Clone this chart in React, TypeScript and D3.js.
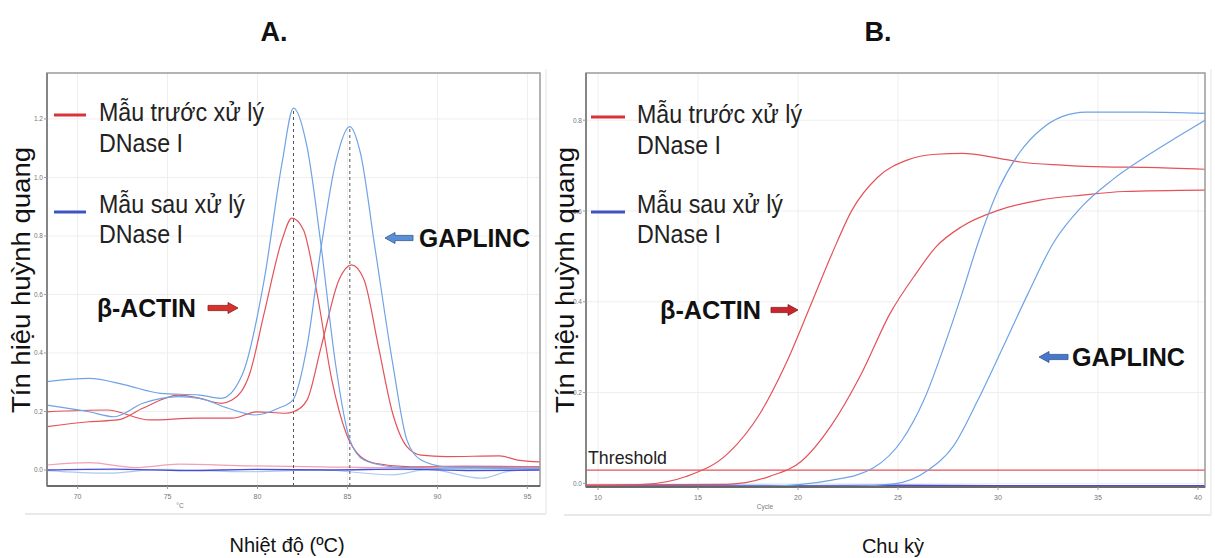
import React from 'react';
import * as d3 from 'd3';

// ---- Panel A: melt curves (temperature, -dF/dT) ----
const tempTicks = [70, 75, 80, 85, 90, 95];
const meltTicks = [0, 0.2, 0.4, 0.6, 0.8, 1.0, 1.2];
const meltPeaks = [82.0, 85.13];

const actinAfterA = [[68.3, 0.302], [70.64, 0.313], [72.63, 0.291], [74.61, 0.262], [76.79, 0.256], [77.98, 0.245], [79.18, 0.33], [80.37, 0.65], [81.36, 1.048], [82.0, 1.237], [82.75, 1.105], [83.54, 0.763], [84.33, 0.365], [85.13, 0.103], [85.92, 0.034], [87.51, 0.011], [89.49, 0.006], [91.48, 0.004], [95.7, 0.006]];
const gaplincAfterA = [[68.3, 0.222], [70.64, 0.199], [72.03, 0.182], [73.62, 0.228], [75.61, 0.251], [76.79, 0.245], [78.38, 0.211], [79.87, 0.188], [81.16, 0.211], [81.96, 0.239], [82.75, 0.422], [83.54, 0.763], [84.33, 1.048], [85.13, 1.174], [85.72, 1.083], [86.52, 0.763], [87.51, 0.365], [88.3, 0.103], [89.09, 0.034], [90.48, 0.011], [93.46, 0.008], [95.7, 0.006]];
const actinBeforeA = [[68.3, 0.148], [70.64, 0.165], [72.23, 0.171], [73.62, 0.211], [75.61, 0.256], [76.79, 0.245], [77.98, 0.228], [78.58, 0.239], [79.57, 0.33], [80.37, 0.536], [81.36, 0.786], [81.91, 0.861], [82.55, 0.821], [83.34, 0.593], [84.13, 0.308], [84.93, 0.125], [85.72, 0.046], [86.52, 0.023], [88.5, 0.011], [91.48, 0.011], [95.7, 0.011]];
const gaplincBeforeA = [[68.3, 0.199], [71.63, 0.205], [74.02, 0.171], [76.59, 0.177], [78.58, 0.177], [79.97, 0.199], [81.56, 0.194], [82.0, 0.199], [82.75, 0.239], [83.54, 0.422], [84.53, 0.65], [85.23, 0.701], [85.92, 0.65], [86.72, 0.422], [87.51, 0.194], [88.3, 0.08], [89.09, 0.051], [90.48, 0.046], [93.46, 0.048], [94.46, 0.034], [95.7, 0.028]];
const ntcDarkA = [[68.3, 0.0], [72, 0.003], [76, -0.002], [80, 0.002], [84, 0.0], [88, 0.003], [92, -0.002], [95.7, 0.0]];
const ntcPinkA = [[68.3, 0.017], [70.64, 0.025], [73.22, 0.008], [75.61, 0.02], [79.57, 0.014], [83.54, 0.011], [87.51, 0.008], [91.48, 0.014], [95.7, 0.011]];
const ntcLightA = [[68.3, -0.002], [71.63, -0.011], [74.61, 0.002], [79.57, -0.006], [83.54, 0.0], [87.51, -0.017], [89.49, 0.002], [92.47, -0.028], [94.0, -0.004], [95.7, 0.002]];

// ---- Panel B: amplification curves (cycle, fluorescence) ----
const cycleTicks = [10, 15, 20, 25, 30, 35, 40];
const ampTicks = [0, 0.2, 0.4, 0.6, 0.8];
const thresholdB = 0.029;

const actinBeforeB = [[9.4, -0.004], [12.3, -0.002], [14.4, 0.015], [16.5, 0.066], [18.1, 0.154], [19.4, 0.264], [20.6, 0.389], [21.7, 0.506], [22.7, 0.602], [24.0, 0.675], [25.45, 0.712], [26.9, 0.725], [28.2, 0.727], [30.05, 0.716], [31.1, 0.708], [33.2, 0.701], [35.3, 0.697], [37.4, 0.696], [40.35, 0.692]];
const gaplincBeforeB = [[9.4, -0.004], [16.5, -0.002], [18.55, 0.015], [20.2, 0.05], [21.7, 0.13], [23.15, 0.24], [24.6, 0.374], [25.9, 0.462], [26.9, 0.521], [28.2, 0.566], [30.05, 0.602], [32.1, 0.624], [34.2, 0.635], [36.3, 0.643], [40.35, 0.646]];
const actinAfterB = [[9.4, -0.007], [18.55, -0.006], [21.7, 0.007], [23.8, 0.035], [25.2, 0.095], [26.3, 0.184], [27.3, 0.301], [28.2, 0.418], [29.0, 0.529], [30.05, 0.65], [31.1, 0.73], [32.1, 0.778], [33.2, 0.808], [34.4, 0.818], [37.4, 0.818], [40.35, 0.815]];
const gaplincAfterB = [[9.4, -0.007], [22.7, -0.006], [24.8, -0.001], [26.5, 0.029], [27.75, 0.081], [29.0, 0.184], [30.26, 0.301], [31.5, 0.418], [32.76, 0.529], [34.2, 0.61], [35.7, 0.668], [37.4, 0.72], [39.0, 0.764], [40.35, 0.8]];
const ntcB = [[9.4, -0.005], [15, -0.004], [20, -0.005], [25, -0.004], [30, -0.005], [40.35, -0.005]];

const RED = '#e4525a';
const BLUE = '#6fa3e6';
const NARROW = "'Liberation Sans Narrow', 'Arial Narrow', 'Liberation Sans', Arial, sans-serif";
const SANS = "'Liberation Sans', Arial, sans-serif";

function Arrow({ x0, x1, y, dir, fill, stroke }) {
  // block arrow, head on the side of dir
  const hl = 10, sh = 2.6, hh = 5.5;
  let pts;
  if (dir === 'right') {
    pts = [[x0, y - sh], [x1 - hl, y - sh], [x1 - hl, y - hh], [x1, y], [x1 - hl, y + hh], [x1 - hl, y + sh], [x0, y + sh]];
  } else {
    pts = [[x1, y - sh], [x0 + hl, y - sh], [x0 + hl, y - hh], [x0, y], [x0 + hl, y + hh], [x0 + hl, y + sh], [x1, y + sh]];
  }
  return <polygon points={pts.map(p => p.join(',')).join(' ')} fill={fill} stroke={stroke} strokeWidth={0.8} />;
}

function Legend({ x, lineX0, lineX1, yRed, yBlue }) {
  return (
    <g>
      <line x1={lineX0} x2={lineX1} y1={yRed} y2={yRed} stroke="#d8323a" strokeWidth={3} />
      <text x={x} y={yRed + 6} fontFamily={NARROW} fontSize={25} fill="#222" textLength={165} lengthAdjust="spacingAndGlyphs">Mẫu trước xử lý</text>
      <text x={x} y={yRed + 37} fontFamily={NARROW} fontSize={25} fill="#222" textLength={84} lengthAdjust="spacingAndGlyphs">DNase I</text>
      <line x1={lineX0} x2={lineX1} y1={yBlue} y2={yBlue} stroke="#3d55c4" strokeWidth={3} />
      <text x={x} y={yBlue + 1} fontFamily={NARROW} fontSize={25} fill="#222" textLength={146} lengthAdjust="spacingAndGlyphs">Mẫu sau xử lý</text>
      <text x={x} y={yBlue + 31} fontFamily={NARROW} fontSize={25} fill="#222" textLength={84} lengthAdjust="spacingAndGlyphs">DNase I</text>
    </g>
  );
}

function Frame({ id, x0, x1, y0, y1, xs, ys, xTicks, yTicks, yFmt, axisName, children }) {
  return (
    <g>
      <defs>
        <clipPath id={id}><rect x={x0} y={y0} width={x1 - x0} height={y1 - y0} /></clipPath>
      </defs>
      <rect x={x0} y={y0} width={x1 - x0} height={y1 - y0} fill="#fff" />
      {xTicks.map(t => (
        <line key={'gx' + t} x1={xs(t)} x2={xs(t)} y1={y0} y2={y1} stroke="#eeeeee" strokeWidth={1} />
      ))}
      {yTicks.map(t => (
        <line key={'gy' + t} x1={x0} x2={x1} y1={ys(t)} y2={ys(t)} stroke="#eeeeee" strokeWidth={1} />
      ))}
      <g clipPath={`url(#${id})`}>{children}</g>
      <rect x={x0} y={y0} width={x1 - x0} height={y1 - y0} fill="none" stroke="#9a9a9a" strokeWidth={1.5} />
      <line x1={x0} x2={x1} y1={y1} y2={y1} stroke="#555" strokeWidth={1.5} />
      <line x1={x0} x2={x0} y1={y0} y2={y1} stroke="#777" strokeWidth={1.5} />
      {xTicks.map(t => (
        <g key={'tx' + t}>
          <line x1={xs(t)} x2={xs(t)} y1={y1} y2={y1 + 3} stroke="#999" />
          <text x={xs(t)} y={y1 + 13} fontSize={7} fill="#777" textAnchor="middle" fontFamily={SANS}>{t}</text>
        </g>
      ))}
      {yTicks.map(t => (
        <g key={'ty' + t}>
          <line x1={x0 - 3} x2={x0} y1={ys(t)} y2={ys(t)} stroke="#999" />
          <text x={x0 - 4} y={ys(t) + 2.5} fontSize={6.5} fill="#777" textAnchor="end" fontFamily={SANS}>{yFmt(t)}</text>
        </g>
      ))}
      <text x={axisName.x} y={y1 + 22} fontSize={6.5} fill="#777" textAnchor="middle" fontFamily={SANS}>{axisName.text}</text>
      <line x1={x0 - 22} x2={x1 + 6} y1={y1 + 28} y2={y1 + 28} stroke="#e2e2e2" strokeWidth={1.5} />
      <line x1={x1 + 6} x2={x1 + 6} y1={y0 - 4} y2={y1 + 28} stroke="#ececec" strokeWidth={1.5} />
    </g>
  );
}

export default function App() {
  // Panel A scales
  const axA = { x0: 47, x1: 540, y0: 73, y1: 486 };
  const xA = d3.scaleLinear().domain([68.3, 95.7]).range([axA.x0, axA.x1]);
  const yA = d3.scaleLinear().domain([-0.0547, 1.357]).range([axA.y1, axA.y0]);
  const lineA = d3.line().x(d => xA(d[0])).y(d => yA(d[1])).curve(d3.curveMonotoneX);

  // Panel B scales
  const axB = { x0: 586, x1: 1205, y0: 73, y1: 487 };
  const xB = d3.scaleLinear().domain([9.4, 40.35]).range([axB.x0, axB.x1]);
  const yB = d3.scaleLinear().domain([-0.008, 0.904]).range([axB.y1, axB.y0]);
  const lineB = d3.line().x(d => xB(d[0])).y(d => yB(d[1])).curve(d3.curveMonotoneX);

  const fmt1 = d3.format('.1f');

  return (
    <svg width={1215} height={558} style={{ position: 'absolute', left: 0, top: 0, background: '#fff' }}>
      {/* titles */}
      <text x={274} y={41} fontSize={27} fontWeight="bold" textAnchor="middle" fontFamily={SANS} fill="#111">A.</text>
      <text x={878} y={41} fontSize={27} fontWeight="bold" textAnchor="middle" fontFamily={SANS} fill="#111">B.</text>

      {/* Panel A */}
      <Frame id="clipA" {...axA} xs={xA} ys={yA} xTicks={tempTicks} yTicks={meltTicks} yFmt={fmt1} axisName={{ x: 180, text: '°C' }}>
        <path d={lineA(ntcLightA)} fill="none" stroke="#a9c8f2" strokeWidth={1.2} />
        <path d={lineA(ntcPinkA)} fill="none" stroke="#f2a0b4" strokeWidth={1.2} />
        <path d={lineA(ntcDarkA)} fill="none" stroke="#4b4bd6" strokeWidth={1.4} />
        {meltPeaks.map((p, i) => (
          <line key={p} x1={xA(p)} x2={xA(p)} y1={axA.y1} y2={yA(i === 0 ? 1.237 : 1.174)} stroke="#555" strokeWidth={1} strokeDasharray="3,3" />
        ))}
        <path d={lineA(actinBeforeA)} fill="none" stroke={RED} strokeWidth={1.2} />
        <path d={lineA(gaplincBeforeA)} fill="none" stroke={RED} strokeWidth={1.2} />
        <path d={lineA(actinAfterA)} fill="none" stroke={BLUE} strokeWidth={1.2} />
        <path d={lineA(gaplincAfterA)} fill="none" stroke={BLUE} strokeWidth={1.2} />
      </Frame>
      <Legend x={99} lineX0={54} lineX1={86} yRed={115} yBlue={212} />
      <text x={97} y={317} fontFamily={NARROW} fontWeight="bold" fontSize={25} fill="#111" textLength={99} lengthAdjust="spacingAndGlyphs">β-ACTIN</text>
      <Arrow x0={208} x1={238} y={308} dir="right" fill="#d7322c" stroke="#8b1c1c" />
      <text x={419} y={247} fontFamily={NARROW} fontWeight="bold" fontSize={25} fill="#111" textLength={111} lengthAdjust="spacingAndGlyphs">GAPLINC</text>
      <Arrow x0={385} x1={413} y={238} dir="left" fill="#5b8fd6" stroke="#2f5597" />

      {/* Panel B */}
      <Frame id="clipB" {...axB} xs={xB} ys={yB} xTicks={cycleTicks} yTicks={ampTicks} yFmt={fmt1} axisName={{ x: 765, text: 'Cycle' }}>
        <path d={lineB(ntcB)} fill="none" stroke="#4b4bd6" strokeWidth={1.4} />
        <line x1={axB.x0} x2={axB.x1} y1={yB(thresholdB)} y2={yB(thresholdB)} stroke="#e4525a" strokeWidth={1.3} />
        <path d={lineB(actinBeforeB)} fill="none" stroke={RED} strokeWidth={1.2} />
        <path d={lineB(gaplincBeforeB)} fill="none" stroke={RED} strokeWidth={1.2} />
        <path d={lineB(actinAfterB)} fill="none" stroke={BLUE} strokeWidth={1.2} />
        <path d={lineB(gaplincAfterB)} fill="none" stroke={BLUE} strokeWidth={1.2} />
      </Frame>
      <text x={588} y={464} fontFamily={NARROW} fontSize={19} fill="#222" textLength={79} lengthAdjust="spacingAndGlyphs">Threshold</text>
      <Legend x={637} lineX0={591} lineX1={625} yRed={117} yBlue={212} />
      <text x={660} y={319} fontFamily={NARROW} fontWeight="bold" fontSize={25} fill="#111" textLength={101} lengthAdjust="spacingAndGlyphs">β-ACTIN</text>
      <Arrow x0={771} x1={798} y={310} dir="right" fill="#c8262c" stroke="#8b1c1c" />
      <text x={1072} y={366} fontFamily={NARROW} fontWeight="bold" fontSize={25} fill="#111" textLength={113} lengthAdjust="spacingAndGlyphs">GAPLINC</text>
      <Arrow x0={1039} x1={1068} y={357} dir="left" fill="#4a78c8" stroke="#2f5597" />

      {/* y axis titles */}
      <text transform="translate(30,280) rotate(-90)" fontSize={25} textAnchor="middle" fontFamily={SANS} fill="#111" textLength={266} lengthAdjust="spacingAndGlyphs">Tín hiệu huỳnh quang</text>
      <text transform="translate(574,280) rotate(-90)" fontSize={25} textAnchor="middle" fontFamily={SANS} fill="#111" textLength={266} lengthAdjust="spacingAndGlyphs">Tín hiệu huỳnh quang</text>

      {/* x axis titles */}
      <text x={287} y={552} fontSize={20} textAnchor="middle" fontFamily={SANS} fill="#111">Nhiệt độ (ºC)</text>
      <text x={893} y={553} fontSize={20} textAnchor="middle" fontFamily={SANS} fill="#111">Chu kỳ</text>
    </svg>
  );
}
